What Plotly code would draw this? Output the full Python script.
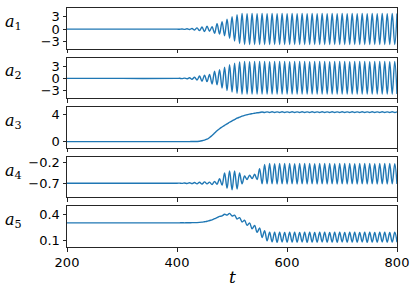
import plotly.graph_objects as go

# ---------------- data ----------------
t_flat = [200.0, 300.0]

# times of successive extremes of the oscillation
t_ext = [400.0, 404.6, 409.1, 413.7, 418.2, 422.8, 427.3, 431.9, 436.4, 441.0,
         445.5, 450.1, 454.6, 459.2, 463.7, 468.3, 472.8, 477.4, 481.9, 486.5,
         491.0, 495.6, 500.1, 504.7, 509.2, 513.8, 518.3, 522.9, 527.4, 532.0,
         536.5, 541.1, 545.6, 550.2, 554.7, 559.3, 563.8, 568.4, 572.9, 577.5,
         582.0, 586.6, 591.1, 595.7, 600.2, 604.8, 609.3, 613.9, 618.4, 623.0,
         627.5, 632.1, 636.6, 641.2, 645.7, 650.3, 654.8, 659.4, 663.9, 668.5,
         673.0, 677.6, 682.1, 686.7, 691.2, 695.8, 700.3, 704.9, 709.4, 714.0,
         718.5, 723.1, 727.6, 732.2, 736.7, 741.3, 745.8, 750.4, 754.9, 759.5,
         764.0, 768.6, 773.1, 777.7, 782.2, 786.8, 791.3, 795.9, 800.0]

a1_flat = [0.0, 0.0]
a1_ext = [0.0, -0.02, 0.04, -0.05, 0.08, -0.1, 0.15, -0.2, 0.3, -0.35,
          0.5, -0.6, 0.7, -0.5, 0.6, -1.0, 1.3, -1.2, 1.8, -1.6,
          2.4, -2.2, 3.0, -2.9, 3.5, -3.5, 3.8,
          -3.7, 3.75, -3.72, 3.78, -3.7, 3.76, -3.71, 3.78, -3.7, 3.75,
          -3.72, 3.77, -3.7, 3.76, -3.71, 3.78, -3.7, 3.75, -3.72, 3.77,
          -3.7, 3.76, -3.71, 3.78, -3.7, 3.75, -3.72, 3.77, -3.7, 3.76,
          -3.71, 3.78, -3.7, 3.75, -3.72, 3.77, -3.7, 3.76, -3.71, 3.78,
          -3.7, 3.75, -3.72, 3.77, -3.7, 3.76, -3.71, 3.78, -3.7, 3.75,
          -3.72, 3.77, -3.7, 3.76, -3.71, 3.78, -3.7, 3.75, -3.72, 3.77,
          -3.7, 3.76]

a2_flat = [0.0, 0.0]
a2_ext = [0.0, 0.03, -0.05, 0.08, -0.1, 0.15, -0.2, 0.3, -0.4, 0.6,
          -0.7, 0.8, -0.8, 1.0, -1.4, 1.8, -1.6, 2.2, -2.4, 2.8,
          -3.0, 3.4, -3.4, 3.8, -3.7, 4.1, -3.9,
          4.2, -3.9, 4.18, -3.92, 4.2, -3.9, 4.22, -3.91, 4.2, -3.9,
          4.18, -3.92, 4.2, -3.9, 4.22, -3.91, 4.2, -3.9, 4.18, -3.92,
          4.2, -3.9, 4.22, -3.91, 4.2, -3.9, 4.18, -3.92, 4.2, -3.9,
          4.22, -3.91, 4.2, -3.9, 4.18, -3.92, 4.2, -3.9, 4.22, -3.91,
          4.2, -3.9, 4.18, -3.92, 4.2, -3.9, 4.22, -3.91, 4.2, -3.9,
          4.18, -3.92, 4.2, -3.9, 4.22, -3.91, 4.2, -3.9, 4.18, -3.92,
          4.2, -3.9]

a3_flat = [0.0, 0.0]
a3_ext = [0.0, 0.0, 0.0, 0.0, 0.0, 0.0, 0.01, 0.01, 0.02, 0.05,
          0.12, 0.22, 0.35, 0.6, 0.9, 1.25, 1.6, 1.9, 2.15, 2.4,
          2.6, 2.85, 3.05, 3.25, 3.45, 3.6, 3.75, 3.87, 3.96, 4.05,
          4.12, 4.18, 4.24, 4.28,
          4.36, 4.28, 4.38, 4.28, 4.39, 4.28, 4.38, 4.29, 4.39, 4.28,
          4.38, 4.28, 4.39, 4.29, 4.38, 4.28, 4.39, 4.28, 4.38, 4.29,
          4.39, 4.28, 4.38, 4.28, 4.39, 4.29, 4.38, 4.28, 4.39, 4.28,
          4.38, 4.29, 4.39, 4.28, 4.38, 4.28, 4.39, 4.29, 4.38, 4.28,
          4.39, 4.28, 4.38, 4.29, 4.39, 4.28, 4.38, 4.28, 4.39, 4.29,
          4.38, 4.28, 4.39, 4.28, 4.38]

a4_flat = [-0.686, -0.686]
a4_ext = [-0.686, -0.683, -0.689, -0.68, -0.692, -0.676, -0.696, -0.67, -0.70, -0.665,
          -0.705, -0.655, -0.70, -0.66, -0.715, -0.645, -0.71, -0.58, -0.73, -0.45,
          -0.80, -0.40, -0.84, -0.40, -0.82, -0.45, -0.70, -0.52, -0.60, -0.50,
          -0.58, -0.48, -0.60, -0.35, -0.70, -0.25, -0.70,
          -0.23, -0.70, -0.235, -0.705, -0.23, -0.70, -0.228, -0.703, -0.23, -0.70,
          -0.235, -0.705, -0.23, -0.70, -0.228, -0.703, -0.23, -0.70, -0.235, -0.705,
          -0.23, -0.70, -0.228, -0.703, -0.23, -0.70, -0.235, -0.705, -0.23, -0.70,
          -0.228, -0.703, -0.23, -0.70, -0.235, -0.705, -0.23, -0.70, -0.228, -0.703,
          -0.23, -0.70, -0.235, -0.705, -0.23, -0.70, -0.228, -0.703, -0.23, -0.70,
          -0.235, -0.705]

a5_flat = [0.300, 0.300]
a5_ext = [0.300, 0.300, 0.301, 0.300, 0.301, 0.301, 0.302, 0.302, 0.303, 0.305,
          0.308, 0.313, 0.318, 0.327, 0.335, 0.348, 0.36, 0.375, 0.38, 0.40,
          0.39, 0.41, 0.38, 0.39, 0.345, 0.36, 0.31, 0.33, 0.27, 0.30,
          0.23, 0.27, 0.19, 0.24, 0.13, 0.21, 0.09, 0.19, 0.08,
          0.19, 0.075, 0.19, 0.077, 0.188, 0.075, 0.19, 0.076, 0.19, 0.075,
          0.188, 0.077, 0.19, 0.075, 0.19, 0.076, 0.188, 0.075, 0.19, 0.077,
          0.19, 0.075, 0.188, 0.076, 0.19, 0.075, 0.19, 0.077, 0.188, 0.075,
          0.19, 0.076, 0.19, 0.075, 0.188, 0.077, 0.19, 0.075, 0.19, 0.076,
          0.188, 0.075, 0.19, 0.077, 0.19, 0.075, 0.188, 0.076, 0.19, 0.075]

labels = ["1", "2", "3", "4", "5"]
y_tickvals = [[3, 0, -3], [3, 0, -3], [0, 4], [-0.2, -0.7], [0.1, 0.4]]
y_ticktext = [["3", "0", "\u22123"], ["3", "0", "\u22123"], ["0", "4"],
              ["\u22120.2", "\u22120.7"], ["0.1", "0.4"]]
x_tickvals = [200, 400, 600, 800]
x_ticktext = ["200", "400", "600", "800"]

# ---------------- layout geometry ----------------
W, H = 415, 291
ML, MR, MT, MB = 67, 18, 6, 44
PH = H - MT - MB
panels_px = [(6, 47), (56, 97), (106, 147), (156, 197), (206, 247)]
y_ranges = [[-4.72, 5.11], [-4.94, 5.19], [-0.92, 5.07], [-1.014, -0.074], [0.019, 0.492]]


def py(p):
    return (H - MB - p) / PH


flats = [a1_flat, a2_flat, a3_flat, a4_flat, a5_flat]
exts = [a1_ext, a2_ext, a3_ext, a4_ext, a5_ext]

fig = go.Figure()
LINE = "#1f77b4"
tickfont = dict(family="DejaVu Sans", size=13, color="black")

layout = dict(width=W, height=H, margin=dict(l=ML, r=MR, t=MT, b=MB),
              paper_bgcolor="white", plot_bgcolor="white", showlegend=False)
annotations = []
for i in range(5):
    xs = list(t_flat) + [t for t, _ in zip(t_ext, exts[i])]
    ys = list(flats[i]) + [v for _, v in zip(t_ext, exts[i])]
    n = "" if i == 0 else str(i + 1)
    fig.add_trace(go.Scatter(x=xs, y=ys, mode="lines", xaxis="x" + n, yaxis="y" + n,
                             line=dict(color=LINE, width=1.4, shape="spline", smoothing=1.0),
                             hoverinfo="skip"))
    top, bot = panels_px[i]
    axstyle = dict(showline=True, mirror=True, linecolor="#262626", linewidth=1,
                   showgrid=False, zeroline=False, ticks="outside", ticklen=3.5,
                   tickwidth=1, tickcolor="#262626", tickfont=tickfont)
    layout["xaxis" + n] = dict(axstyle, range=[200, 800], domain=[0, 1],
                                anchor="y" + n, tickvals=x_tickvals,
                                ticktext=x_ticktext, showticklabels=(i == 4),
                                **({} if i == 0 else {"matches": "x"}))
    layout["yaxis" + n] = dict(axstyle, range=y_ranges[i], domain=[py(bot), py(top)],
                                anchor="x" + n, tickvals=y_tickvals[i],
                                ticktext=y_ticktext[i])
    annotations.append(dict(xref="paper", yref="paper", x=(3 - ML) / (W - ML - MR),
                            y=py((top + bot) / 2 - 6), xanchor="left", yanchor="middle",
                            text="<i>a</i><sub>" + labels[i] + "</sub>", showarrow=False,
                            font=dict(family="DejaVu Serif", size=16, color="black")))

annotations.append(dict(xref="paper", yref="paper", x=0.5, y=py(277), xanchor="center",
                        yanchor="middle", text="<i>t</i>", showarrow=False,
                        font=dict(family="DejaVu Serif", size=17, color="black")))
layout["annotations"] = annotations
fig.update_layout(**layout)
fig.write_html("out.html", config={"displayModeBar": False},
               post_script="document.body.style.margin='0';")
